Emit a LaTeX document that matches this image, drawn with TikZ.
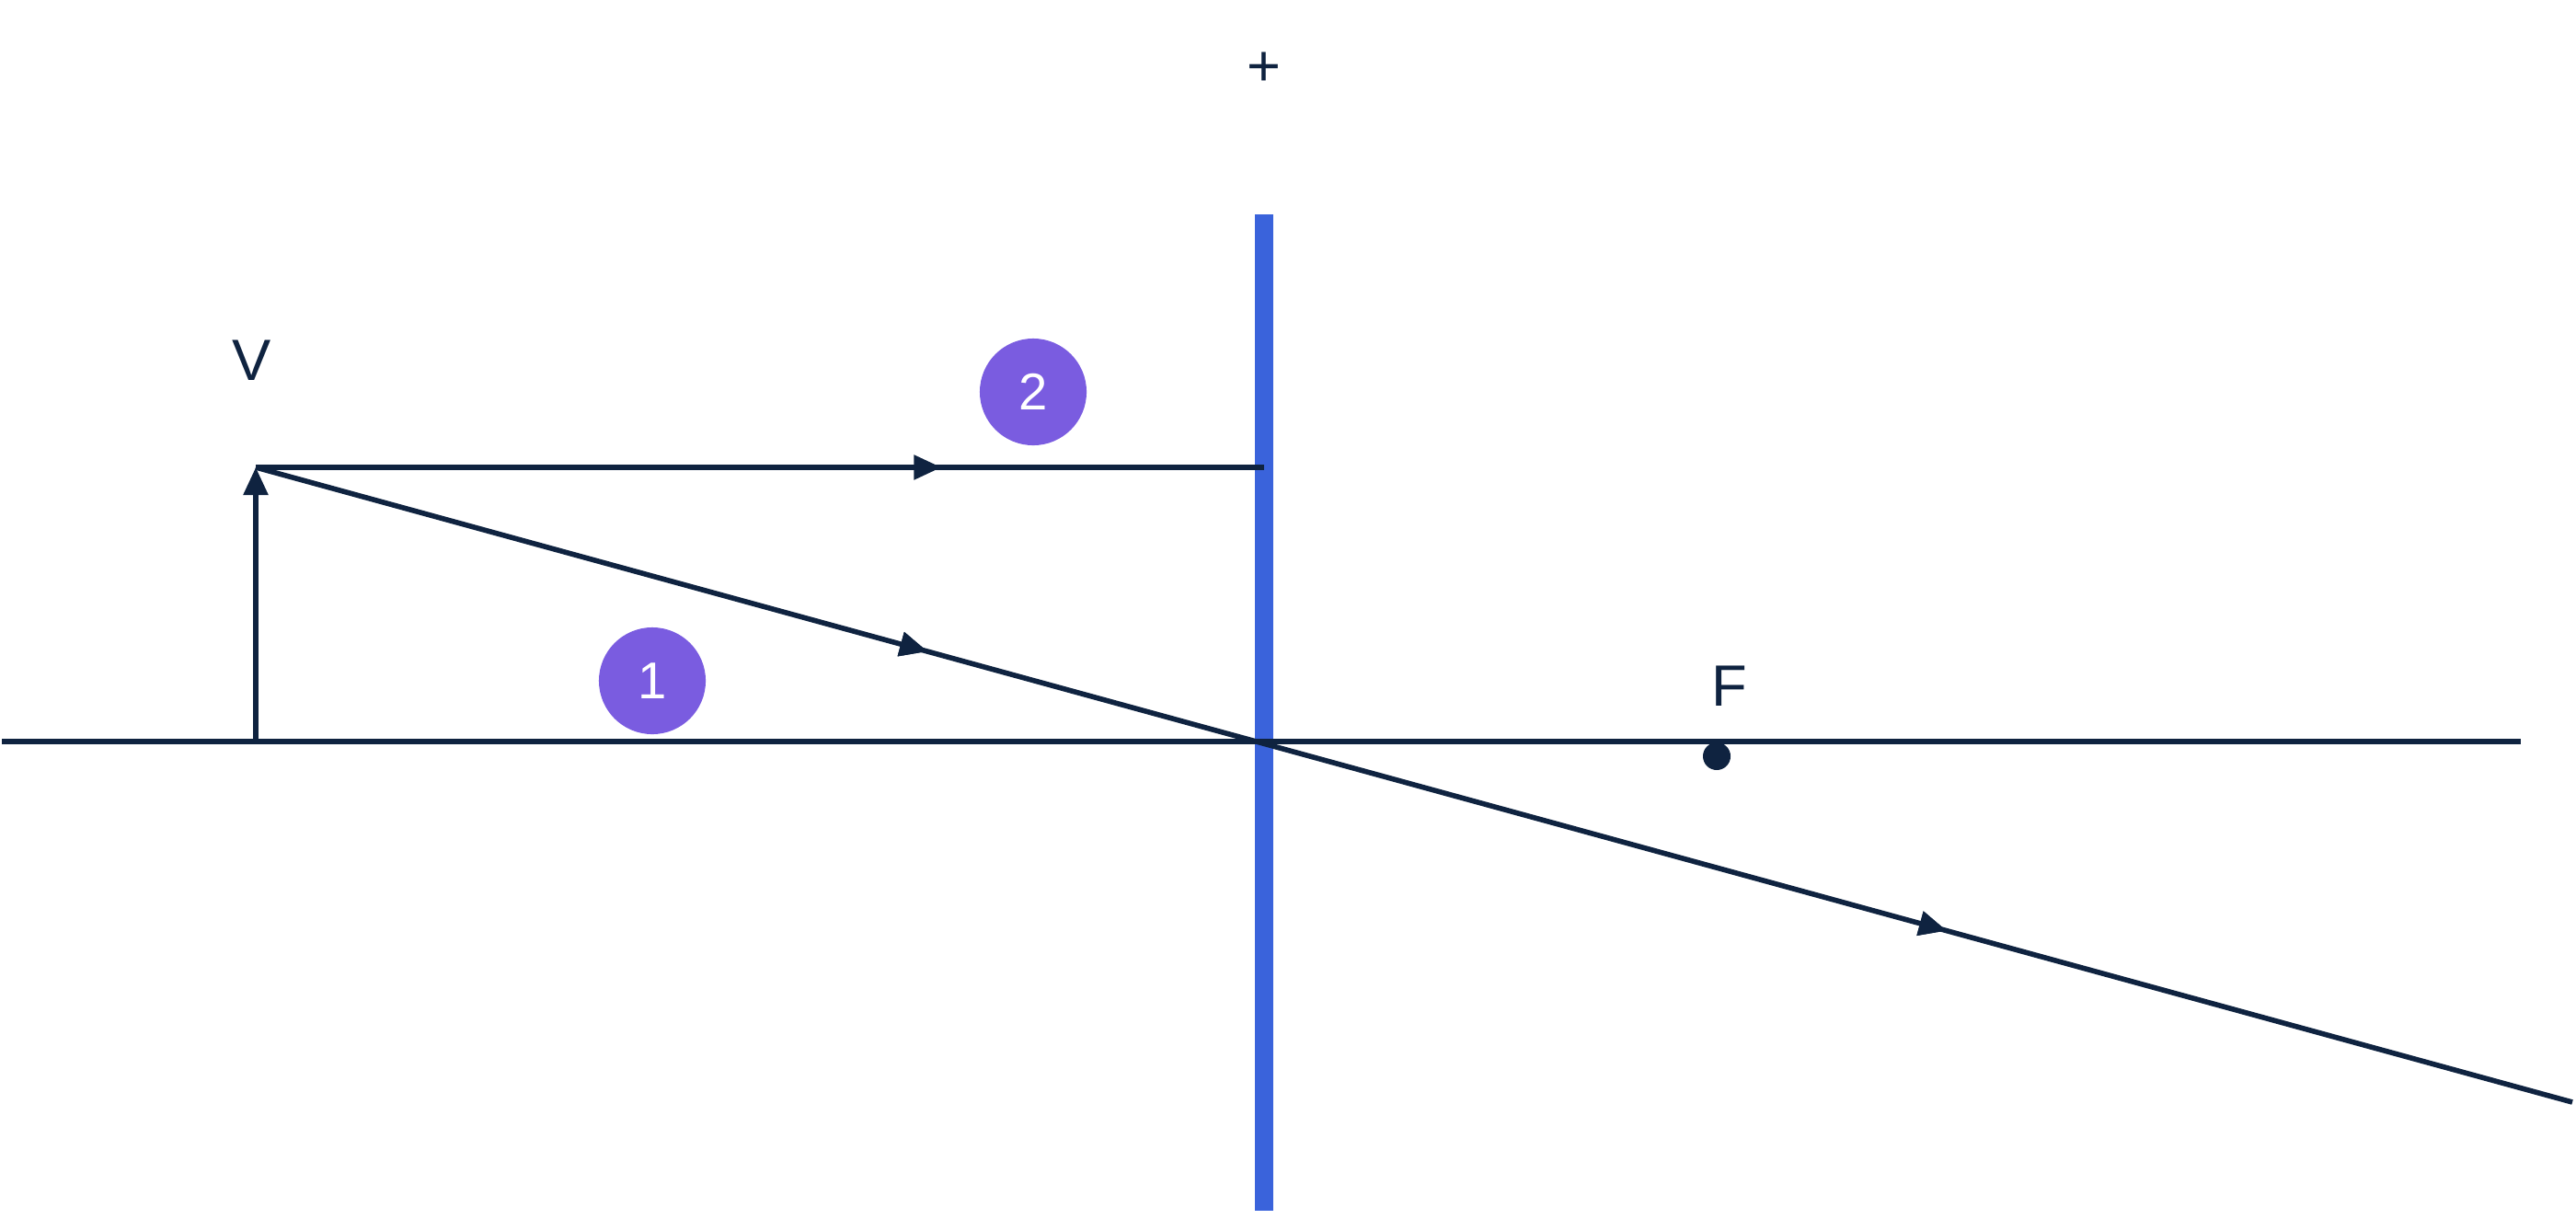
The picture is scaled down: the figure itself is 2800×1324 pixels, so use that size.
\documentclass[tikz,border=0pt]{standalone}
\usepackage{fontspec}
\setmainfont{Liberation Sans}
\usetikzlibrary{positioning,decorations.markings,arrows.meta}
\definecolor{ink}{HTML}{0F2340}
\definecolor{lensblue}{HTML}{3A63DB}
\definecolor{badge}{HTML}{7A5CE0}
\begin{document}
\begin{tikzpicture}[x=0.01cm,y=-0.01cm,
  ray/.style={draw=ink, line width=1.6pt},
  numdot/.style={circle, fill=badge, minimum size=1.16cm, inner sep=0pt, text=white, font=\fontsize{16}{16}\selectfont},
  lbl/.style={text=ink, font=\fontsize{18}{18}\selectfont},
  midarrow/.style={postaction={decorate}, decoration={markings, mark=at position #1 with {\arrow{Triangle[length=0.3cm,width=0.26cm]}}}}]
  \useasboundingbox (0,0) rectangle (2800,1324);

  \coordinate (axl) at (2,806);
  \coordinate (axr) at (2740,806);
  \coordinate (base) at (278,806);
  \coordinate (tip) at (278,508);
  \coordinate (hit) at (1374,508);
  \coordinate (centre) at (1374,806);
  \coordinate (rayend) at (2796,1198);

  % lens
  \draw[lensblue, line width=5.7pt] (1374,233) -- (1374,1316);
  \node[lbl] (plus) at (1374,75) {+};

  % axis and object
  \draw[ray] (axl) -- (axr);
  \draw[ray, -{Triangle[length=0.3cm,width=0.26cm]}] (base) -- (tip);
  \node[lbl] (V) at (274,392) {V};

  % rays
  \draw[ray, midarrow=0.68] (tip) -- (hit);
  \draw[ray, midarrow=0.29, midarrow=0.73] (tip) -- (rayend);

  % focus
  \node[circle, fill=ink, minimum size=0.3cm, inner sep=0pt] (Fdot) at (1866,822) {};
  \node[lbl] (F) at (1880,746) {F};

  \node[numdot] (n1) at (709,740) {1};
  \node[numdot] (n2) at (1123,426) {2};
\end{tikzpicture}
\end{document}
